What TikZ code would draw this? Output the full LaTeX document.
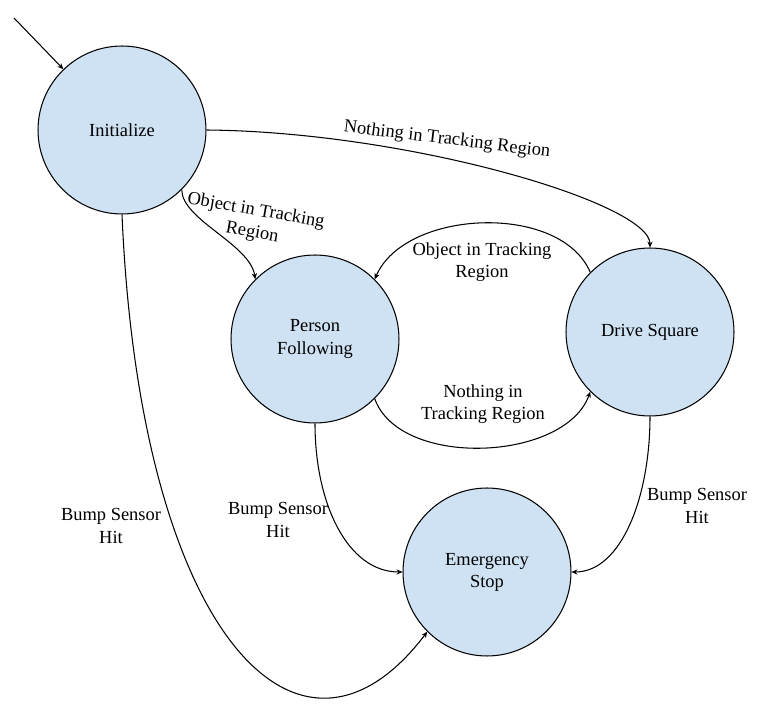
\documentclass[tikz,border=0pt]{standalone}
\usepackage{fontspec}
\setmainfont{Liberation Serif}
\newfontfamily\labelfont{Liberation Serif}
\usetikzlibrary{arrows.meta}
\definecolor{stfill}{HTML}{CFE2F3}

\begin{document}
\begin{tikzpicture}[x=0.02cm,y=-0.02cm,
    every node/.style={font=\labelfont\fontsize{10.5}{12.6}\selectfont, align=center, inner sep=1pt},
    st/.style={circle, draw, fill=stfill, line width=0.6pt, minimum size=3.36cm, inner sep=0pt},
    edge/.style={line width=0.6pt, -{Stealth[length=3.4pt,width=3pt]}}]
  \useasboundingbox (0,0) rectangle (762,719);

  % states
  \foreach \nm/\x/\y/\txt in {init/122/130/Initialize, follow/315/339/{Person\\Following},
                              drive/650/332/Drive Square, estop/487/572/{Emergency\\Stop}}
    \node[st] (\nm) at (\x,\y) {\txt};

  % transitions
  \coordinate (begin) at (14,18);
  \draw[edge] (begin) -- (init);
  \draw[edge] (init.east) .. controls +(204,2) and +(0,-44) .. (drive.north);
  \draw[edge] (init.-45) .. controls +(0,30) and +(-5,-35) .. (follow.135);
  \draw[edge] (drive.135) .. controls +(-30,-70) and +(30,-70) .. (follow.45);
  \draw[edge] (follow.-45) .. controls +(25,70) and +(-25,70) .. (drive.-135);
  \draw[edge] (follow.south) .. controls +(0,80) and +(-55,0) .. (estop.west);
  \draw[edge] (drive.south) .. controls +(0,80) and +(50,0) .. (estop.east);
  \draw[edge] (init.south) .. controls +(18,420) and +(-128,169) .. (estop.-135);

  % labels
  \node[rotate=-7] (nothingtop) at (447,140) {Nothing in Tracking Region};
  \node[rotate=-10] (objectleft) at (254,222) {Object in Tracking\\Region};
  \node (objectarc) at (482,262) {Object in Tracking\\Region};
  \node (nothingarc) at (483,404) {Nothing in\\Tracking Region};
  \node (bumpfollow) at (278,520) {Bump Sensor\\Hit};
  \node (bumpdrive) at (697,506) {Bump Sensor\\Hit};
  \node (bumpinit) at (111,526) {Bump Sensor\\Hit};
\end{tikzpicture}
\end{document}
